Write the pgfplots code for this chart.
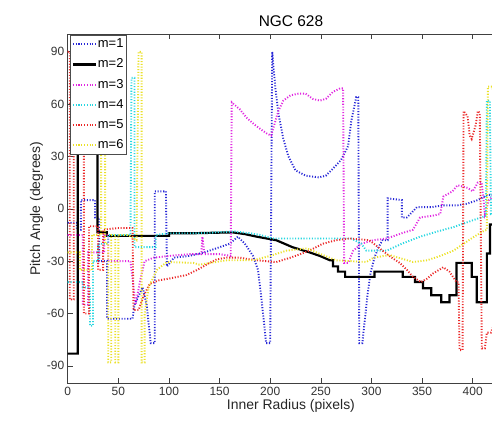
\documentclass[border=0pt]{standalone}
\usepackage{pgfplots}
\pgfplotsset{compat=1.18}
\usepackage{fontspec}
\setmainfont{Liberation Sans}
\definecolor{mBlue}{RGB}{40,40,215}
\definecolor{mMag}{RGB}{225,40,225}
\definecolor{mCyan}{RGB}{40,215,225}
\definecolor{mRed}{RGB}{235,40,40}
\definecolor{mYel}{RGB}{235,225,40}
\begin{document}
\begin{tikzpicture}
\begin{axis}[
  scale only axis,
  width=446.5bp, height=349bp,
  xmin=0, xmax=441, ymin=-100, ymax=100,
  xtick={0,50,...,400}, ytick={-90,-60,...,90},
  tick align=inside, major tick length=5bp,
  /pgf/number format/assume math mode=true,
  tick label style={font=\fontsize{12}{14}\selectfont, text=black!80},
  axis line style={black!75, line width=0.6pt},
  every tick/.style={black!75, line width=0.6pt},
  title={NGC 628}, title style={font=\fontsize{15.5}{18}\selectfont, yshift=-2bp},
  xlabel={Inner Radius (pixels)}, ylabel={Pitch Angle (degrees)},
  label style={font=\fontsize{14}{16}\selectfont, text=black!85},
  xlabel style={yshift=3bp}, ylabel style={yshift=-3bp},
  legend style={at={(axis description cs:0.005,0.998)}, anchor=north west,
    font=\fontsize{13}{15}\selectfont, draw=black!70, line width=0.6pt, fill=white,
    inner sep=1.5bp, row sep=5.2bp,
    nodes={inner sep=1bp, text height=10bp, text depth=3bp}},
  legend cell align=left,
  legend image code/.code={\draw[#1] (0bp,0bp) -- (23bp,0bp);},
  every axis plot/.append style={line join=miter},
]
% m=1
\addplot[mBlue, line width=1.9pt, dash pattern=on 1.1pt off 1.7pt] coordinates {
(0,-8)(9,-8)(9,-12)(13,-12)(13,5)(27,5)(27,-5)(31,-5)(31,-30)(39,-30)(39,-63)(64,-63)(66,-55)(70,-50)(74,-45)(78,-55)(82,-77)(86,-77)(86,10)(97,10)(98,-33)(105,-28)(120,-27)(135,-25)(150,-22)(160,-20)(168,-16)(175,-20)(183,-27)(188,-35)(192,-55)(196,-77)(200,-77)(202,90)(205,70)(208,55)(213,40)(218,30)(225,22)(235,19)(248,18)(255,19)(262,23)(270,28)(277,36)(280,50)(285,64)(287,64)(288,-77)(291,-77)(296,-50)(299,-37)(303,-28)(307,-22)(311,-18)(316,-18)(316,6)(330,5)(330,-5)(335,-5)(345,1)(360,1)(371,2)(385,2)(395,3)(405,5)(415,8)(425,8)};
\addlegendentry{m=1}
% m=2
\addplot[black, line width=2.2pt] coordinates {
(0,-83)(10,-83)(10,88)(29.5,88)(29.5,-13.4)(38.5,-13.4)(38.5,-15.5)(100,-15.5)(100,-14)(124,-14)(163,-13.5)(175,-14.5)(187,-16)(206,-18)(222,-22)(239,-25)(249,-27)(259,-29.5)(262,-29.5)(262,-33)(267,-33)(267,-36)(274,-36)(274,-39)(303,-39)(303,-36)(331,-36)(331,-39)(343,-39)(343,-42)(351,-42)(351,-45.5)(359,-45.5)(359,-49.5)(369,-49.5)(369,-53.5)(377,-53.5)(377,-49.5)(384,-49.5)(384,-31)(399,-31)(399,-39)(404,-39)(404,-53.5)(414,-53.5)(414,-25.6)(417,-25.6)(417,-9)(425,-9)};
\addlegendentry{m=2}
% m=3
\addplot[mMag, line width=1.9pt, dash pattern=on 1.1pt off 1.7pt] coordinates {
(0,-15)(15,-15)(15,-55)(20,-55)(20,-25)(36,-25)(36,-15)(40,-15)(40,-30)(62,-30)(64,-40)(67,-55)(72,-40)(76,-30)(85,-28)(100,-27)(120,-26)(132,-26)(133,-16)(135,-26)(150,-26)(161,-27)(162,61)(170,57)(177,52)(185,48)(192,45)(197,43)(201,42)(204,48)(208,56)(213,62)(220,65)(228,66)(235,66)(242,63)(249,62)(255,63)(262,67)(269,69)(272,69)(273,-31)(277,-31)(282,-24)(290,-20)(302,-18)(315,-17)(330,-14)(341,-12)(345,-8)(348,-5)(360,-4)(368,-3)(371,7)(380,10)(385,13.5)(395,12)(400,10)(405,15)(409,15)(412,-3)(416,5)(425,10)};
\addlegendentry{m=3}
% m=4
\addplot[mCyan, line width=1.9pt, dash pattern=on 1.1pt off 1.7pt] coordinates {
(0,-42)(15,-42)(15,-45)(22,-45)(22,-67)(25,-67)(25,-30)(30,-30)(30,-20)(40,-20)(40,-15)(62,-15)(63,75)(66,75)(66,-22)(87,-22)(87,-15)(100,-14)(130,-14)(165,-13)(180,-14)(190,-15)(203,-17)(250,-17)(280,-17)(290,-20)(295,-24)(315,-24)(330,-20)(348,-16)(365,-13)(381,-10.5)(400,-6.6)(413,-4)(414,62)(417,62)(418,-3)(425,-2)};
\addlegendentry{m=4}
% m=5
\addplot[mRed, line width=1.9pt, dash pattern=on 1.1pt off 1.7pt] coordinates {
(0,90)(2,90)(2,-52)(6,-52)(6,35)(16,35)(16,-60)(21,-60)(21,-10)(30,-10)(30,-35)(35,-35)(35,-12)(50,-11)(64,-11)(65,-58)(70,-58)(75,-50)(81,-43)(90,-41)(100,-40)(117,-38)(128,-35)(137,-32)(147,-29)(157,-28)(170,-28)(180,-29)(195,-30)(206,-30.5)(220,-28)(232,-25.5)(242,-23)(252,-20)(265,-18)(279,-17)(298,-18)(311,-24)(320,-28)(328,-31)(335,-35)(341,-39)(349,-42)(355,-40)(361,-37)(371,-33.5)(377,-36)(384,-42)(386,-42)(387,-81)(390,-81)(391,56)(395,53)(397,42)(399,40)(403,48)(405,56)(407,55)(409,-80)(412,-80)(414,-71)(418,-71)(425,-60)};
\addlegendentry{m=5}
% m=6
\addplot[mYel, line width=1.9pt, dash pattern=on 1.1pt off 1.7pt] coordinates {
(0,-25)(12,-25)(12,-35)(24,-35)(24,-15)(33,-15)(33,90)(37,90)(37,-20)(40,-20)(40,-88)(43,-88)(43,-15)(47,-15)(47,-88)(50,-88)(50,-15)(60,-15)(68,-18)(70,90)(73,90)(73,-88)(76,-88)(76,-60)(80,-45)(88,-35)(98,-30.5)(124,-31)(130,-32)(157,-29.5)(183,-29.5)(200,-27)(216,-24)(236,-22.7)(250,-26)(265,-29.5)(295,-30.5)(302,-28)(318,-26.5)(341,-30.5)(355,-29.5)(368,-27)(381,-24)(400,-16.5)(410,-13)(414,-12)(415,70)(419,70)(425,60)};
\addlegendentry{m=6}
\end{axis}
\pgfresetboundingbox
\path ([xshift=-67.7bp,yshift=-39.9bp]current axis.south west) rectangle ([xshift=-22.2bp,yshift=34.3bp]current axis.north east);
\end{tikzpicture}
\end{document}
